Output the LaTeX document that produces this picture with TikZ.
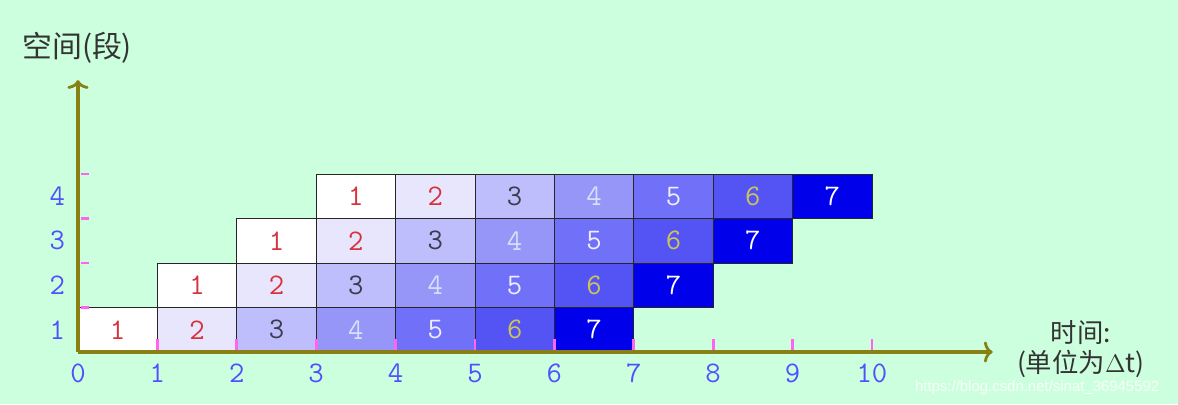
\documentclass[tikz,border=0pt]{standalone}
\usepackage{fontspec}
\usetikzlibrary{arrows.meta}
\newfontfamily\cjk{Noto Sans CJK SC}
\newfontfamily\wmfont{Liberation Sans}
\definecolor{bgmint}{RGB}{204,255,221}
\definecolor{axolive}{RGB}{136,128,20}
\definecolor{tickpink}{RGB}{255,100,240}
\definecolor{numblue}{RGB}{80,80,255}
\definecolor{fillA}{RGB}{255,255,255}
\definecolor{fillB}{RGB}{232,230,252}
\definecolor{fillC}{RGB}{190,190,252}
\definecolor{fillD}{RGB}{150,150,248}
\definecolor{fillE}{RGB}{112,112,248}
\definecolor{fillF}{RGB}{84,84,245}
\definecolor{fillG}{RGB}{0,0,235}
\definecolor{txtA}{RGB}{215,50,60}
\definecolor{txtB}{RGB}{215,50,60}
\definecolor{txtC}{RGB}{60,60,75}
\definecolor{txtD}{RGB}{215,225,250}
\definecolor{txtE}{RGB}{238,238,255}
\definecolor{txtF}{RGB}{205,195,90}
\definecolor{txtG}{RGB}{255,255,255}
\begin{document}
\begin{tikzpicture}[x=1.588cm,y=0.89cm,
    cell/.style={draw=black!85,line width=0.5pt,minimum width=1.588cm,minimum height=0.89cm,
      inner sep=0pt,font=\ttfamily\fontsize{17}{17}\selectfont},
    axis/.style={draw=axolive,line width=2pt,-{To[length=5pt,width=12pt,line width=1.6pt]}},
    tickmark/.style={draw=tickpink,line width=1.6pt},
    axnum/.style={text=numblue,font=\ttfamily\fontsize{17}{17}\selectfont,inner sep=1pt},
    axlab/.style={text=black!80,font=\cjk\fontsize{15}{17}\selectfont,inner sep=0pt,align=center}]
    \useasboundingbox[fill=bgmint] (-0.982,-1.169) rectangle (13.854,7.910);

    % cells of the four segments
    \foreach \r in {1,...,4} {
        \foreach \k/\nm in {1/A,2/B,3/C,4/D,5/E,6/F,7/G} {
            \node[cell,fill=fill\nm,text=txt\nm] (c\r\k) at ({\r+\k-1.5},{\r-0.5}) {\k};
        }
    }

    % axes
    \coordinate (orig) at (0,0);
    \coordinate (xend) at (11.52,0);
    \coordinate (yend) at (0,6.11);
    \draw[axis] (orig) -- (xend);
    \draw[axis] (orig) -- (yend);

    % ticks and numbers
    \foreach \i in {0,...,10} {
        \node[axnum,anchor=north] (xt\i) at (\i,-0.22) {\i};
    }
    \foreach \i in {1,...,10} {
        \draw[tickmark] (\i,0.05) -- (\i,0.3);
    }
    \foreach \i in {1,...,4} {
        \node[axnum] (yt\i) at (-0.26,{\i-0.5}) {\i};
        \draw[tickmark] (0.04,\i) -- (0.14,\i);
    }

    \node[axlab,font=\cjk\fontsize{17}{20}\selectfont] (ylab) at (-0.01,6.83) {空间(段)};
    \node[axlab] (xlab) at (12.63,0.06) {时间:\\(单位为$\Delta$t)};
    \node[text=white!85!bgmint,font=\wmfont\fontsize{8.5}{8.5}\selectfont,inner sep=0pt] (wm) at (12.08,-0.8) {https://blog.csdn.net/sinat\_36945592};
\end{tikzpicture}
\end{document}
